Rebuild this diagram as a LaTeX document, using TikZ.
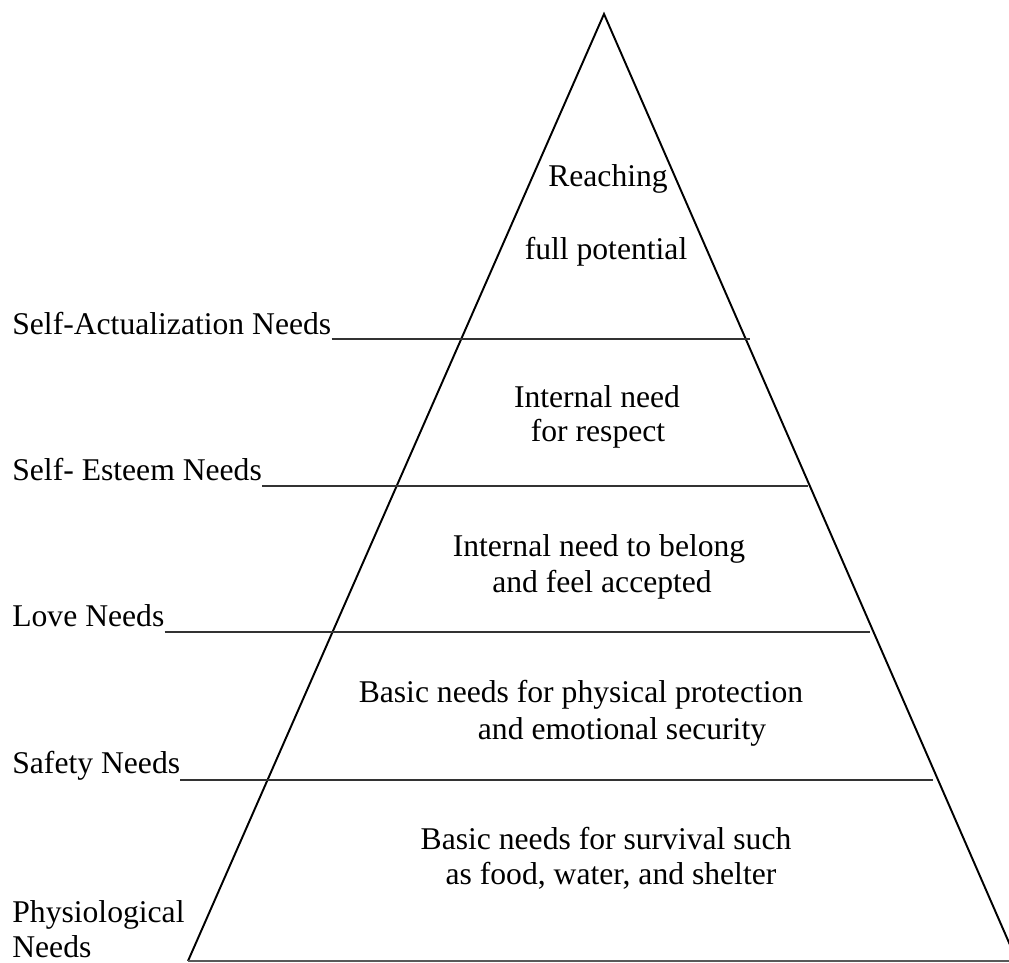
\documentclass[tikz,border=0pt]{standalone}
\usepackage{fontspec}
\setmainfont{Liberation Serif}
\usetikzlibrary{positioning,calc}

\begin{document}
\begin{tikzpicture}[every node/.style={inner sep=0, font=\fontsize{18}{20}\selectfont},
    rule/.style={line width=0.8pt, black!80}]
  \useasboundingbox (0,0) rectangle (20.18,19.26);
  \clip (0,0) rectangle (20.18,19.26);
  % the pyramid itself
  \coordinate (apex) at (12.08,18.98);
  \coordinate (bl) at (3.76,0.04);
  \coordinate (br) at (20.34,0.04);
  \draw[line width=1.1pt] (bl) -- (apex) -- (br);
  \draw[rule, black!65] (bl) -- (br);
  % level names on the left, each with its rule
  \node (sa) at (0.24,12.56) [anchor=base west] {Self-Actualization Needs};
  \node (se) at (0.24,9.64) [anchor=base west] {Self- Esteem Needs};
  \node (lv) at (0.24,6.72) [anchor=base west] {Love Needs};
  \node (sf) at (0.24,3.78) [anchor=base west] {Safety Needs};
  \node (ph) at (0.24,0.10) [anchor=south west, align=left] {Physiological\\Needs};
  \coordinate (sa-end) at (15.00,12.48);
  \coordinate (se-end) at (16.16,9.54);
  \coordinate (lv-end) at (17.40,6.62);
  \coordinate (sf-end) at (18.66,3.66);
  \draw[rule] (sa.base east |- sa-end) -- (sa-end);
  \draw[rule] (se.base east |- se-end) -- (se-end);
  \draw[rule] (lv.base east |- lv-end) -- (lv-end);
  \draw[rule] (sf.base east |- sf-end) -- (sf-end);
  % text inside the levels
  \node (t1a) at (12.16,15.52) [anchor=base] {Reaching};
  \node (t1b) at (12.12,14.06) [anchor=base] {full potential};
  \node (t2a) at (11.94,11.10) [anchor=base] {Internal need};
  \node (t2b) at (11.96,10.42) [anchor=base] {for respect};
  \node (t3a) at (11.98,8.12) [anchor=base] {Internal need to belong};
  \node (t3b) at (12.04,7.40) [anchor=base] {and feel accepted};
  \node (t4a) at (11.62,5.20) [anchor=base] {Basic needs for physical protection};
  \node (t4b) at (12.44,4.46) [anchor=base] {and emotional security};
  \node (t5a) at (12.12,2.26) [anchor=base] {Basic needs for survival such};
  \node (t5b) at (12.22,1.56) [anchor=base] {as food, water, and shelter};
\end{tikzpicture}
\end{document}
